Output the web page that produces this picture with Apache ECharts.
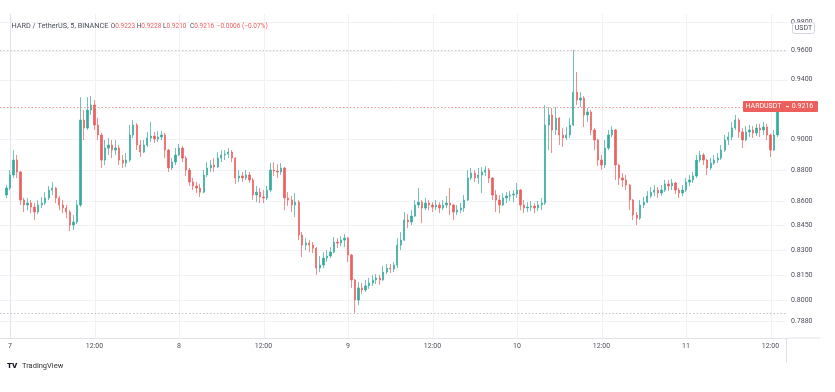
<!DOCTYPE html>
<html><head><meta charset="utf-8">
<script src="https://cdn.jsdelivr.net/npm/echarts@6/dist/echarts.min.js"></script>
<style>html,body{margin:0;padding:0;background:#fff}#c{width:835px;height:392px}</style>
</head><body><div id="c"></div>
<script>
// ---- data (30-minute candles; hours since day 7 00:00) ----
const firstCandleHour = -0.5;
const candleStepHours = 0.5;
const opens = [.8640,.8684,.8767,.8863,.8786,.8608,.8577,.8589,.8564,.8533,.8577,.8589,.8621,.8671,.8684,.8621,.8577,.8558,.8533,.8452,
.8471,.8577,.9126,.9073,.9193,.9227,.9093,.9027,.8863,.8941,.8961,.8928,.8941,.8863,.8844,.8863,.9027,.9093,.8961,.8915,
.8961,.9007,.9020,.9001,.9014,.9027,.8928,.8812,.8850,.8896,.8941,.8876,.8799,.8722,.8697,.8684,.8658,.8767,.8812,.8831,
.8818,.8876,.8896,.8902,.8915,.8876,.8748,.8761,.8748,.8767,.8735,.8640,.8658,.8627,.8621,.8671,.8799,.8792,.8786,.8812,
.8621,.8608,.8577,.8595,.8391,.8330,.8342,.8330,.8311,.8191,.8209,.8251,.8263,.8287,.8348,.8342,.8360,.8372,.8269,.8120,
.8002,.8073,.8061,.8085,.8102,.8120,.8132,.8120,.8167,.8191,.8185,.8209,.8330,.8360,.8483,.8471,.8508,.8577,.8595,.8558,
.8589,.8577,.8564,.8577,.8558,.8577,.8589,.8577,.8533,.8545,.8558,.8608,.8748,.8780,.8748,.8767,.8786,.8799,.8748,.8640,
.8608,.8577,.8621,.8633,.8640,.8646,.8671,.8577,.8558,.8564,.8570,.8558,.8577,.8589,.9093,.9160,.9060,.9139,.9027,.9007,
.9027,.9093,.9314,.9260,.9274,.9160,.9180,.9060,.8994,.8863,.8831,.8941,.9027,.9060,.8831,.8748,.8735,.8703,.8608,.8514,
.8495,.8577,.8595,.8633,.8658,.8671,.8652,.8671,.8710,.8697,.8716,.8671,.8652,.8671,.8722,.8735,.8761,.8863,.8896,.8863,
.8812,.8844,.8863,.8876,.8928,.8994,.9014,.9073,.9126,.9047,.8994,.9047,.9060,.9040,.9073,.9060,.9080,.9027,.8928,.9027];
const highs = [.8703,.8799,.8928,.8896,.8793,.8621,.8621,.8608,.8589,.8608,.8627,.8658,.8697,.8722,.8690,.8633,.8608,.8577,.8545,.8514,
.8608,.9280,.9193,.9280,.9287,.9260,.9139,.9040,.8994,.9007,.8994,.8994,.8961,.8896,.8909,.9093,.9126,.9106,.8994,.8994,
.9047,.9113,.9047,.9053,.9053,.9040,.8935,.8876,.8941,.8968,.8954,.8889,.8812,.8748,.8722,.8710,.8799,.8850,.8863,.8876,
.8915,.8928,.8928,.8941,.8928,.8883,.8799,.8786,.8799,.8786,.8748,.8697,.8684,.8671,.8697,.8844,.8850,.8837,.8844,.8818,
.8658,.8633,.8652,.8608,.8409,.8372,.8360,.8348,.8317,.8263,.8287,.8299,.8317,.8379,.8372,.8384,.8397,.8379,.8275,.8126,
.8108,.8102,.8120,.8132,.8150,.8155,.8150,.8203,.8215,.8215,.8227,.8372,.8409,.8533,.8520,.8545,.8608,.8684,.8608,.8621,
.8608,.8595,.8608,.8595,.8608,.8633,.8684,.8583,.8577,.8589,.8640,.8799,.8812,.8799,.8812,.8818,.8825,.8812,.8754,.8671,
.8640,.8652,.8658,.8665,.8671,.8716,.8678,.8608,.8595,.8602,.8589,.8602,.8621,.9227,.9213,.9207,.9213,.9146,.9073,.9080,
.9139,.9605,.9452,.9314,.9287,.9207,.9193,.9073,.9001,.8896,.8994,.9060,.9086,.9066,.8837,.8780,.8767,.8710,.8614,.8533,
.8608,.8627,.8665,.8690,.8703,.8690,.8703,.8735,.8735,.8741,.8722,.8684,.8703,.8748,.8767,.8786,.8896,.8922,.8909,.8870,
.8876,.8896,.8909,.8961,.9027,.9047,.9113,.9160,.9139,.9073,.9086,.9093,.9086,.9100,.9100,.9113,.9100,.9034,.9060,.9228];
const lows = [.8621,.8671,.8748,.8748,.8577,.8533,.8545,.8526,.8483,.8520,.8558,.8577,.8608,.8640,.8589,.8545,.8526,.8495,.8415,.8421,
.8458,.8564,.8994,.9060,.9160,.9060,.8994,.8812,.8831,.8896,.8876,.8896,.8831,.8812,.8818,.8850,.9007,.8928,.8883,.8909,
.8948,.8981,.8974,.8981,.8994,.8876,.8786,.8799,.8831,.8889,.8850,.8761,.8697,.8671,.8652,.8627,.8652,.8754,.8786,.8786,
.8812,.8850,.8863,.8876,.8850,.8710,.8722,.8722,.8735,.8716,.8608,.8595,.8589,.8589,.8608,.8658,.8761,.8748,.8767,.8545,
.8570,.8533,.8502,.8360,.8257,.8299,.8287,.8281,.8150,.8167,.8191,.8227,.8251,.8281,.8311,.8323,.8317,.8227,.8073,.7926,
.7973,.8037,.8049,.8067,.8085,.8096,.8091,.8114,.8155,.8161,.8167,.8191,.8299,.8354,.8433,.8452,.8502,.8558,.8464,.8545,
.8545,.8533,.8545,.8526,.8545,.8558,.8514,.8483,.8514,.8526,.8533,.8602,.8735,.8722,.8710,.8652,.8761,.8716,.8608,.8533,
.8526,.8570,.8589,.8602,.8595,.8621,.8545,.8526,.8533,.8539,.8526,.8539,.8545,.8577,.8928,.8909,.9027,.8961,.8948,.8994,
.9007,.9086,.9227,.9213,.9080,.9113,.9027,.8928,.8825,.8799,.8812,.8928,.9014,.8735,.8703,.8690,.8671,.8545,.8483,.8452,
.8483,.8558,.8589,.8621,.8633,.8621,.8633,.8658,.8665,.8671,.8646,.8621,.8633,.8658,.8697,.8716,.8748,.8850,.8831,.8767,
.8799,.8831,.8844,.8863,.8915,.8961,.8994,.9060,.9007,.8941,.8987,.9014,.9007,.9020,.9014,.9027,.8994,.8883,.8922,.9014];
const closes = [.8684,.8767,.8863,.8786,.8608,.8577,.8589,.8564,.8533,.8577,.8589,.8621,.8671,.8684,.8621,.8577,.8558,.8533,.8452,.8471,
.8577,.9126,.9073,.9193,.9227,.9093,.9027,.8863,.8941,.8961,.8928,.8941,.8863,.8844,.8863,.9027,.9093,.8961,.8915,.8961,
.9007,.9020,.9001,.9014,.9027,.8928,.8812,.8850,.8896,.8941,.8876,.8799,.8722,.8697,.8684,.8658,.8767,.8812,.8831,.8818,
.8876,.8896,.8902,.8915,.8876,.8748,.8761,.8748,.8767,.8735,.8640,.8658,.8627,.8621,.8671,.8799,.8792,.8786,.8812,.8621,
.8608,.8577,.8595,.8391,.8330,.8342,.8330,.8311,.8191,.8209,.8251,.8263,.8287,.8348,.8342,.8360,.8372,.8269,.8120,.8002,
.8073,.8061,.8085,.8102,.8120,.8132,.8120,.8167,.8191,.8185,.8209,.8330,.8360,.8483,.8471,.8508,.8577,.8595,.8558,.8589,
.8577,.8564,.8577,.8558,.8577,.8589,.8577,.8533,.8545,.8558,.8608,.8748,.8780,.8748,.8767,.8786,.8799,.8748,.8640,.8608,
.8577,.8621,.8633,.8640,.8646,.8671,.8577,.8558,.8564,.8570,.8558,.8577,.8589,.9093,.9160,.9060,.9139,.9027,.9007,.9027,
.9093,.9314,.9260,.9274,.9160,.9180,.9060,.8994,.8863,.8831,.8941,.9027,.9060,.8831,.8748,.8735,.8703,.8608,.8514,.8495,
.8577,.8595,.8633,.8658,.8671,.8652,.8671,.8710,.8697,.8716,.8671,.8652,.8671,.8722,.8735,.8761,.8863,.8896,.8863,.8812,
.8844,.8863,.8876,.8928,.8994,.9014,.9073,.9126,.9047,.8994,.9047,.9060,.9040,.9073,.9060,.9080,.9027,.8928,.9027,.9216];
const xTickHours = [0,12,24,36,48,60,72,84,96,108];
const xTickLabels = ['7','12:00','8','12:00','9','12:00','10','12:00','11','12:00'];
const yTickValues = [0.98,0.96,0.94,0.90,0.88,0.86,0.845,0.83,0.815,0.80,0.788];
const symbolName = 'HARDUSDT';
const quoteUnit = 'USDT';
const titleText = 'HARD / TetherUS, 5, BINANCE';
const lastBarLabels = ['O','H','L','C'];
const lastBarValues = ['0.9223','0.9228','0.9210','0.9216'];
const lastChange = '\u22120.0006 (\u22120.07%)';

// ---- chart ----
const UP = '#35ab9d', DOWN = '#ec5f5d', TXT = '#4a4e58', FONT = 'Roboto';
const candles = closes.map((c, i) => [firstCandleHour + i * candleStepHours, opens[i], c, lows[i], highs[i]]);
const hi = Math.max(...highs), lo = Math.min(...lows), last = closes[closes.length - 1];

const chart = echarts.init(document.getElementById('c'), null, {renderer: 'canvas'});
chart.setOption({
  animation: false,
  backgroundColor: '#ffffff',
  grid: {left: 0, right: 48, top: 14, bottom: 54, containLabel: false},
  xAxis: {
    type: 'value', min: -1.42, max: 110.34,
    axisLine: {show: true, lineStyle: {color: '#e0e3eb', width: 1}},
    axisTick: {show: false}, splitLine: {show: false},
    axisLabel: {customValues: xTickHours, margin: 5, fontSize: 7, fontFamily: FONT, color: TXT,
      formatter: v => xTickLabels[xTickHours.indexOf(Math.round(v))] || ''}
  },
  yAxis: {
    type: 'log', position: 'right', min: 0.7783, max: 0.9861, scale: true,
    axisLine: {show: true, lineStyle: {color: '#e0e3eb', width: 1}},
    axisTick: {show: false}, splitLine: {show: false},
    axisLabel: {customValues: yTickValues, margin: 4, fontSize: 7, fontFamily: FONT, color: TXT,
      formatter: v => Number(v).toFixed(4)}
  },
  series: [
    {type: 'candlestick', z: 3, data: candles, encode: {x: 0, y: [1, 2, 3, 4]},
     barWidth: 1.8,
     itemStyle: {color: UP, color0: DOWN, borderColor: UP, borderColor0: DOWN, borderWidth: 0.7}}
  ]
});

const px = v => chart.convertToPixel({xAxisIndex: 0}, v);
const py = v => chart.convertToPixel({yAxisIndex: 0}, v);
const plotL = px(-1.42), plotR = px(110.34), plotT = py(0.9861), plotB = py(0.7783);
const g = [];
// faint grid
yTickValues.forEach(v => { const y = Math.round(py(v)) + 0.5;
  g.push({type: 'line', z: 0, silent: true, shape: {x1: plotL, y1: y, x2: plotR, y2: y}, style: {stroke: '#f0f2f6', lineWidth: 1}}); });
xTickHours.forEach(h => { const x = Math.round(px(h)) + 0.5;
  g.push({type: 'line', z: 0, silent: true, shape: {x1: x, y1: plotT, x2: x, y2: plotB}, style: {stroke: '#f0f2f6', lineWidth: 1}}); });
// high / low / last price dotted lines
[[hi, '#d4c2c5'], [lo, '#c2c2ca'], [last, '#f09a98']].forEach(([v, col]) => { const y = Math.round(py(v)) + 0.5;
  g.push({type: 'line', z: 10, silent: true, shape: {x1: plotL, y1: y, x2: plotR, y2: y}, style: {stroke: col, lineWidth: 1, lineDash: [1.5, 2]}}); });
// legend line
g.push({type: 'text', z: 10, style: {text: titleText, x: 11.5, y: 26, verticalAlign: 'middle', fill: TXT, fontSize: 7.3, fontFamily: FONT}});
const legX = [110.7, 136.7, 163, 190];
lastBarLabels.forEach((l, i) => {
  g.push({type: 'text', z: 10, style: {
    text: '{a|' + l + '}{b|' + lastBarValues[i] + '}', x: legX[i], y: 26, verticalAlign: 'middle', fontFamily: FONT, fontSize: 6.5,
    rich: {a: {fill: TXT, fontSize: 6.5, fontFamily: FONT}, b: {fill: DOWN, fontSize: 6.5, fontFamily: FONT}}}});
});
g.push({type: 'text', z: 10, style: {text: lastChange, x: 216.7, y: 26, verticalAlign: 'middle', fill: DOWN, fontSize: 6.5, fontFamily: FONT}});
// USDT box
g.push({type: 'rect', shape: {x: 792.5, y: 22.5, width: 22, height: 11, r: 2}, style: {fill: '#fff', stroke: '#d1d4dc', lineWidth: 1}, z: 20});
g.push({type: 'text', style: {text: quoteUnit, x: 803.5, y: 28, align: 'center', verticalAlign: 'middle', fill: TXT, fontSize: 7, fontFamily: FONT}, z: 21});
// price label
const yLast = py(last);
g.push({type: 'rect', shape: {x: 743, y: yLast - 5.5, width: 75, height: 11, r: 1}, style: {fill: DOWN}, z: 20});
g.push({type: 'text', style: {text: symbolName, x: 763.5, y: yLast, align: 'center', verticalAlign: 'middle', fill: '#fff', fontSize: 7, fontFamily: FONT}, z: 21});
g.push({type: 'line', shape: {x1: 786, y1: yLast, x2: 789, y2: yLast}, style: {stroke: '#fff', lineWidth: 1}, z: 21});
g.push({type: 'text', style: {text: last.toFixed(4), x: 802.5, y: yLast, align: 'center', verticalAlign: 'middle', fill: '#fff', fontSize: 7, fontFamily: FONT}, z: 21});
// chrome lines
g.push({type: 'line', shape: {x1: 787, y1: 338, x2: 820, y2: 338}, style: {stroke: '#e0e3eb', lineWidth: 1}});
g.push({type: 'line', shape: {x1: 786.5, y1: 338, x2: 786.5, y2: 363}, style: {stroke: '#e0e3eb', lineWidth: 1}});
// logo
g.push({type: 'text', style: {text: 'TV', x: 7, y: 366, verticalAlign: 'middle', fill: '#131722', fontSize: 8, fontWeight: 900, fontFamily: FONT}});
g.push({type: 'text', style: {text: 'TradingView', x: 22, y: 366, verticalAlign: 'middle', fill: '#333', fontSize: 7.5, fontFamily: FONT}});
chart.setOption({graphic: g});
</script>
</body></html>
